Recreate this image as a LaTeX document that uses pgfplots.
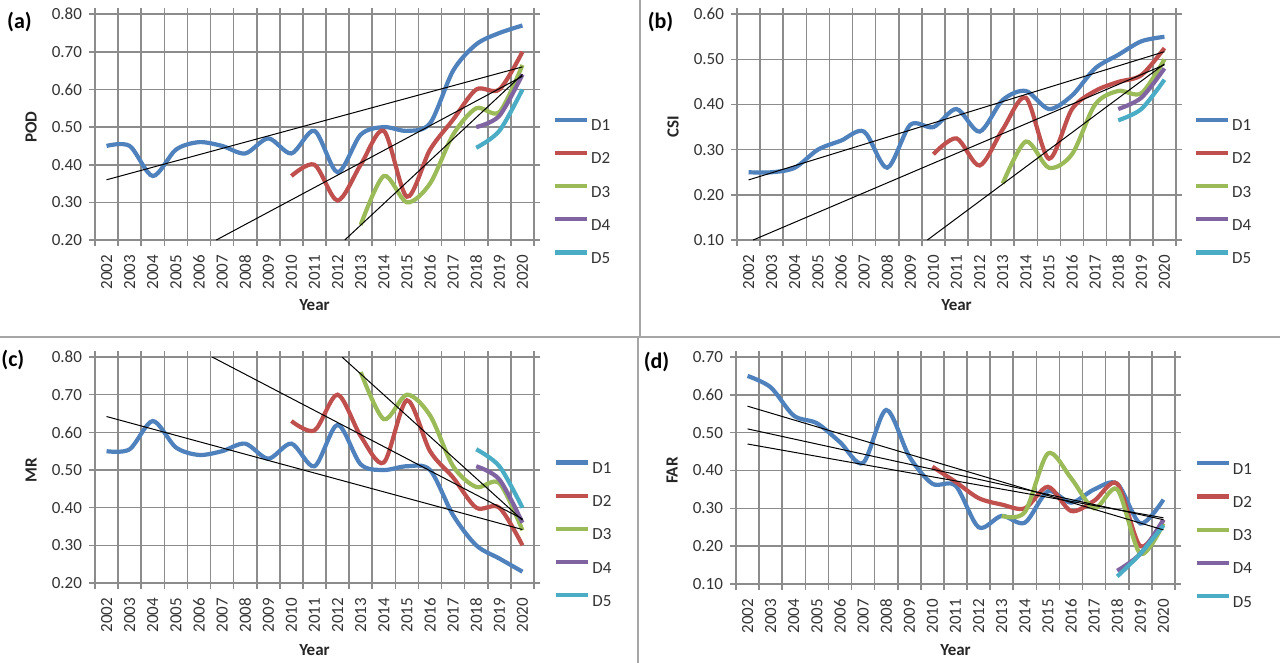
\documentclass[border=0pt]{standalone}
\usepackage{fontspec}
\setmainfont{Carlito}
\usepackage{pgfplots}
\pgfplotsset{compat=1.18}
\definecolor{cA}{HTML}{4F81BD}
\definecolor{cB}{HTML}{C0504D}
\definecolor{cC}{HTML}{9BBB59}
\definecolor{cD}{HTML}{8064A2}
\definecolor{cE}{HTML}{4BACC6}
\definecolor{gridc}{HTML}{8C8C8C}
\definecolor{sepc}{HTML}{A6A6A6}
\pgfplotsset{
  exc/.style={
    scale only axis,
    width=219.5pt, height=112.9pt,
    xmin=2001.5, xmax=2020.5,
    xtick={2001.5,2002.5,2003.5,2004.5,2005.5,2006.5,2007.5,2008.5,2009.5,2010.5,2011.5,2012.5,2013.5,2014.5,2015.5,2016.5,2017.5,2018.5,2019.5,2020.5},
    xticklabels={},
    extra x ticks={2002,2003,2004,2005,2006,2007,2008,2009,2010,2011,2012,2013,2014,2015,2016,2017,2018,2019,2020},
    extra x tick labels={2002,2003,2004,2005,2006,2007,2008,2009,2010,2011,2012,2013,2014,2015,2016,2017,2018,2019,2020},
    extra x tick style={major tick length=0pt, grid=none, xticklabel shift=4pt},
    xticklabel style={rotate=90, anchor=east},
    xmajorgrids=true, ymajorgrids=true,
    tick align=outside, major tick length=3pt,
    grid style={gridc, line width=0.8pt},
    axis line style={gridc, line width=0.8pt},
    tick style={gridc, line width=0.8pt},
    tick label style={font=\fontsize{8.5}{10}\selectfont, text=black!80},
    yticklabel style={/pgf/number format/.cd, fixed, fixed zerofill, precision=2, assume math mode=true},
    scaled y ticks=false,
    every axis y label/.style={at={(axis description cs:-0.1458,0.5)}, anchor=center, rotate=90, font=\bfseries\fontsize{8.5}{10}\selectfont, text=black!85},
    every axis x label/.style={at={(axis description cs:0.5,-0.288)}, anchor=center, font=\bfseries\fontsize{8.5}{10}\selectfont, text=black!85},
    xlabel={Year},
    legend style={draw=none, fill=none, inner sep=0pt, outer sep=0pt, anchor=west,
      font=\fontsize{8.5}{10}\selectfont, text=black!80, row sep=8.6pt, column sep=0pt,
      nodes={inner sep=1pt, text height=6pt, text depth=0pt}},
    legend cell align=left,
    legend image code/.code={\draw[#1] (0pt,2.5pt) -- (16pt,2.5pt);},
    every axis plot/.append style={line width=2.1pt, smooth},
  },
  tr/.style={black, line width=0.5pt, forget plot, sharp plot},
}
\begin{document}
\begin{tikzpicture}
\useasboundingbox (0pt,0pt) rectangle (640pt,-331.5pt);
\draw[sepc, line width=1pt] (320pt,0pt) -- (320pt,-168.5pt);
\draw[sepc, line width=1pt] (319pt,-168.5pt) -- (319pt,-331.5pt);
\draw[sepc, line width=1pt] (0pt,-168.5pt) -- (640pt,-168.5pt);

% (a) POD
\begin{axis}[exc, at={(47.5pt,-120pt)}, anchor=south west,
  ymin=0.2, ymax=0.8, ytick={0.2,0.3,0.4,0.5,0.6,0.7,0.8}, ylabel={POD},
  legend style={at={(1.043,0.217)}}]
\addplot[cA] coordinates {(2002,0.45)(2003,0.45)(2004,0.37)(2005,0.44)(2006,0.46)(2007,0.45)(2008,0.43)(2009,0.47)(2010,0.43)(2011,0.49)(2012,0.38)(2013,0.48)(2014,0.50)(2015,0.49)(2016,0.51)(2017,0.65)(2018,0.72)(2019,0.75)(2020,0.77)};
\addplot[cB] coordinates {(2010,0.37)(2011,0.40)(2012,0.305)(2013,0.40)(2014,0.49)(2015,0.315)(2016,0.44)(2017,0.52)(2018,0.60)(2019,0.60)(2020,0.70)};
\addplot[cC] coordinates {(2013,0.24)(2014,0.37)(2015,0.30)(2016,0.35)(2017,0.48)(2018,0.55)(2019,0.54)(2020,0.665)};
\addplot[cD] coordinates {(2018,0.50)(2019,0.53)(2020,0.64)};
\addplot[cE] coordinates {(2018,0.445)(2019,0.49)(2020,0.60)};
\addplot[tr] coordinates {(2002,0.36)(2020,0.66)};
\addplot[tr] coordinates {(2006.75,0.20)(2020,0.635)};
\addplot[tr] coordinates {(2012.31,0.20)(2020,0.64)};
\legend{D1,D2,D3,D4,D5}
\end{axis}

% (b) CSI
\begin{axis}[exc, at={(368.5pt,-120pt)}, anchor=south west,
  ymin=0.1, ymax=0.6, ytick={0.1,0.2,0.3,0.4,0.5,0.6}, ylabel={CSI},
  legend style={at={(1.041,0.217)}}]
\addplot[cA] coordinates {(2002,0.25)(2003,0.25)(2004,0.26)(2005,0.30)(2006,0.32)(2007,0.34)(2008,0.26)(2009,0.355)(2010,0.35)(2011,0.39)(2012,0.34)(2013,0.41)(2014,0.43)(2015,0.39)(2016,0.42)(2017,0.48)(2018,0.51)(2019,0.54)(2020,0.55)};
\addplot[cB] coordinates {(2010,0.29)(2011,0.325)(2012,0.265)(2013,0.345)(2014,0.415)(2015,0.28)(2016,0.39)(2017,0.43)(2018,0.45)(2019,0.465)(2020,0.525)};
\addplot[cC] coordinates {(2013,0.225)(2014,0.318)(2015,0.26)(2016,0.29)(2017,0.40)(2018,0.43)(2019,0.425)(2020,0.50)};
\addplot[cD] coordinates {(2018,0.39)(2019,0.415)(2020,0.48)};
\addplot[cE] coordinates {(2018,0.365)(2019,0.39)(2020,0.455)};
\addplot[tr] coordinates {(2002,0.233)(2020,0.517)};
\addplot[tr] coordinates {(2002.2,0.10)(2020,0.488)};
\addplot[tr] coordinates {(2009.74,0.10)(2020,0.49)};
\legend{D1,D2,D3,D4,D5}
\end{axis}

% (c) MR
\begin{axis}[exc, at={(47.5pt,-291.5pt)}, anchor=south west, height=113pt,
  ymin=0.2, ymax=0.8, ytick={0.2,0.3,0.4,0.5,0.6,0.7,0.8}, ylabel={MR},
  every axis x label/.style={at={(axis description cs:0.5,-0.296)}, anchor=center, font=\bfseries\fontsize{8.5}{10}\selectfont, text=black!85},
  legend style={at={(1.046,0.217)}}]
\addplot[cA] coordinates {(2002,0.55)(2003,0.555)(2004,0.63)(2005,0.56)(2006,0.54)(2007,0.55)(2008,0.57)(2009,0.53)(2010,0.57)(2011,0.51)(2012,0.62)(2013,0.515)(2014,0.50)(2015,0.51)(2016,0.50)(2017,0.38)(2018,0.30)(2019,0.265)(2020,0.23)};
\addplot[cB] coordinates {(2010,0.63)(2011,0.605)(2012,0.70)(2013,0.59)(2014,0.52)(2015,0.685)(2016,0.55)(2017,0.48)(2018,0.40)(2019,0.40)(2020,0.30)};
\addplot[cC] coordinates {(2013,0.76)(2014,0.635)(2015,0.70)(2016,0.645)(2017,0.51)(2018,0.455)(2019,0.465)(2020,0.34)};
\addplot[cD] coordinates {(2018,0.51)(2019,0.475)(2020,0.36)};
\addplot[cE] coordinates {(2018,0.555)(2019,0.51)(2020,0.40)};
\addplot[tr] coordinates {(2002,0.642)(2020,0.342)};
\addplot[tr] coordinates {(2006.57,0.80)(2020,0.37)};
\addplot[tr] coordinates {(2012.19,0.80)(2020,0.367)};
\legend{D1,D2,D3,D4,D5}
\end{axis}

% (d) FAR
\begin{axis}[exc, at={(368pt,-292pt)}, anchor=south west, height=113.5pt,
  ymin=0.1, ymax=0.7, ytick={0.1,0.2,0.3,0.4,0.5,0.6,0.7}, ylabel={FAR},
  every axis x label/.style={at={(axis description cs:0.5,-0.29)}, anchor=center, font=\bfseries\fontsize{8.5}{10}\selectfont, text=black!85},
  legend style={at={(1.045,0.217)}}]
\addplot[cA] coordinates {(2002,0.65)(2003,0.62)(2004,0.545)(2005,0.525)(2006,0.475)(2007,0.42)(2008,0.56)(2009,0.437)(2010,0.365)(2011,0.36)(2012,0.25)(2013,0.28)(2014,0.262)(2015,0.345)(2016,0.315)(2017,0.35)(2018,0.365)(2019,0.26)(2020,0.323)};
\addplot[cB] coordinates {(2010,0.41)(2011,0.37)(2012,0.327)(2013,0.31)(2014,0.30)(2015,0.357)(2016,0.293)(2017,0.32)(2018,0.365)(2019,0.20)(2020,0.27)};
\addplot[cC] coordinates {(2013,0.28)(2014,0.29)(2015,0.445)(2016,0.38)(2017,0.30)(2018,0.35)(2019,0.18)(2020,0.26)};
\addplot[cD] coordinates {(2018,0.135)(2019,0.18)(2020,0.27)};
\addplot[cE] coordinates {(2018,0.12)(2019,0.18)(2020,0.255)};
\addplot[tr] coordinates {(2002,0.57)(2020,0.243)};
\addplot[tr] coordinates {(2002,0.51)(2020,0.27)};
\addplot[tr] coordinates {(2002,0.47)(2020,0.275)};
\legend{D1,D2,D3,D4,D5}
\end{axis}

\node[font=\bfseries\fontsize{11}{13}\selectfont] at (9.75pt,-11pt) {(a)};
\node[font=\bfseries\fontsize{11}{13}\selectfont] at (330.25pt,-11pt) {(b)};
\node[font=\bfseries\fontsize{11}{13}\selectfont, anchor=west, inner sep=0pt] at (0.5pt,-180pt) {(c)};
\node[font=\bfseries\fontsize{11}{13}\selectfont] at (328.25pt,-181pt) {(d)};
\end{tikzpicture}
\end{document}
